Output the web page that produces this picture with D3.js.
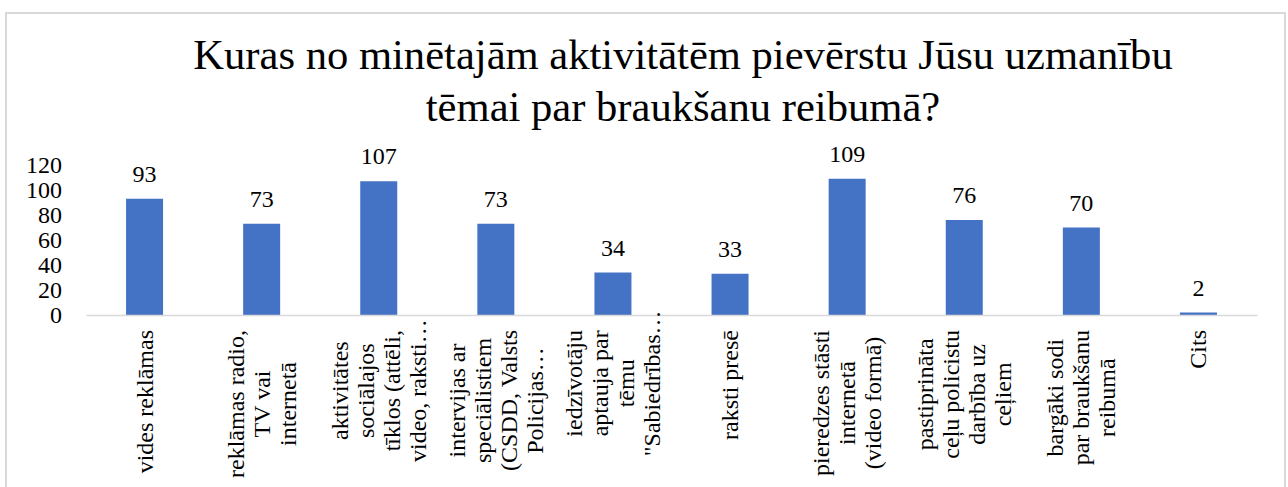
<!DOCTYPE html>
<html>
<head>
<meta charset="utf-8">
<script src="https://cdn.jsdelivr.net/npm/d3@7"></script>
<style>
  body { margin: 0; background: #fff; }
  text { font-family: "Liberation Serif", "DejaVu Serif", serif; fill: #000; }
</style>
</head>
<body>
<div id="chart"></div>
<script>
// chart data
var titleLines = ["Kuras no minētajām aktivitātēm pievērstu Jūsu uzmanību", "tēmai par braukšanu reibumā?"];
var categories = [
  ["vides reklāmas"],
  ["reklāmas radio,", "TV vai", "internetā"],
  ["aktivitātes", "sociālajos", "tīklos (attēli,", "video, raksti…"],
  ["intervijas ar", "speciālistiem", "(CSDD, Valsts", "Policijas…"],
  ["iedzīvotāju", "aptauja par", "tēmu", "\"Sabiedrības…"],
  ["raksti presē"],
  ["pieredzes stāsti", "internetā", "(video formā)"],
  ["pastiprināta", "ceļu policistu", "darbība uz", "ceļiem"],
  ["bargāki sodi", "par braukšanu", "reibumā"],
  ["Cits"]
];
var values = [93, 73, 107, 73, 34, 33, 109, 76, 70, 2];
var yTicks = [0, 20, 40, 60, 80, 100, 120];

var width = 1288, height = 487;
var margin = {top: 165, right: 31, bottom: 172, left: 86};
var serif = "\"Liberation Serif\", \"DejaVu Serif\", serif";

var svg = d3.select("#chart").append("svg")
  .attr("width", width)
  .attr("height", height);

// chart border
svg.append("rect")
  .attr("x", 6).attr("y", 13)
  .attr("width", 1279).attr("height", 500)
  .attr("fill", "#fff")
  .attr("stroke", "#d9d9d9")
  .attr("stroke-width", 2);

// title
svg.append("text")
  .attr("text-anchor", "middle")
  .attr("font-family", serif)
  .attr("font-size", 42.6)
  .selectAll("tspan")
  .data(titleLines)
  .enter().append("tspan")
  .attr("x", 683)
  .attr("y", function(d, i) { return 69 + i * 52; })
  .text(function(d) { return d; });

var x = d3.scaleBand()
  .domain(d3.range(categories.length))
  .range([margin.left, width - margin.right])
  .paddingInner(0.684)
  .paddingOuter(0.342);

var y = d3.scaleLinear()
  .domain([0, 120])
  .range([height - margin.bottom, margin.top]);

// y axis labels only
var yAxis = svg.append("g")
  .attr("transform", "translate(65,0)")
  .call(d3.axisLeft(y).tickValues(yTicks).tickSize(0).tickPadding(3));
yAxis.attr("font-family", serif).attr("font-size", 24);
yAxis.select(".domain").remove();
yAxis.selectAll("text").attr("fill", "#000");

// bars
svg.selectAll(".bar")
  .data(values)
  .enter().append("rect")
  .attr("class", "bar")
  .attr("x", function(d, i) { return x(i); })
  .attr("y", function(d) { return y(d); })
  .attr("width", x.bandwidth())
  .attr("height", function(d) { return y(0) - y(d); })
  .attr("fill", "#4472C4");

// x axis line
var xAxis = svg.append("g")
  .attr("transform", "translate(0," + y(0) + ")")
  .call(d3.axisBottom(x).tickSize(0).tickSizeOuter(0).tickFormat(""));
xAxis.select(".domain")
  .attr("stroke", "#d9d9d9")
  .attr("stroke-width", 1.6);

// value labels
svg.selectAll(".val")
  .data(values)
  .enter().append("text")
  .attr("class", "val")
  .attr("x", function(d, i) { return x(i) + x.bandwidth() / 2; })
  .attr("y", function(d) { return y(d) - 17; })
  .attr("text-anchor", "middle")
  .attr("font-family", serif)
  .attr("font-size", 24)
  .text(function(d) { return d; });

// category labels, rotated and wrapped
var lineH = 26, labelTop = y(0) + 15;
categories.forEach(function(lines, i) {
  var g = svg.append("g")
    .attr("transform", "translate(" + (x(i) + x.bandwidth() / 2) + "," + labelTop + ") rotate(-90)");
  var t = g.selectAll("text")
    .data(lines)
    .enter().append("text")
    .attr("font-family", serif)
    .attr("font-size", 24)
    .attr("text-anchor", "middle")
    .attr("y", function(d, j) { return (j - (lines.length - 1) / 2) * lineH + 8; })
    .text(function(d) { return d; });
  var maxLen = 0;
  t.each(function(d) {
    if (d.indexOf("…") < 0) maxLen = Math.max(maxLen, this.getComputedTextLength());
  });
  if (maxLen === 0) t.each(function() { maxLen = Math.max(maxLen, this.getComputedTextLength()); });
  t.attr("x", -maxLen / 2);
});
</script>
</body>
</html>
